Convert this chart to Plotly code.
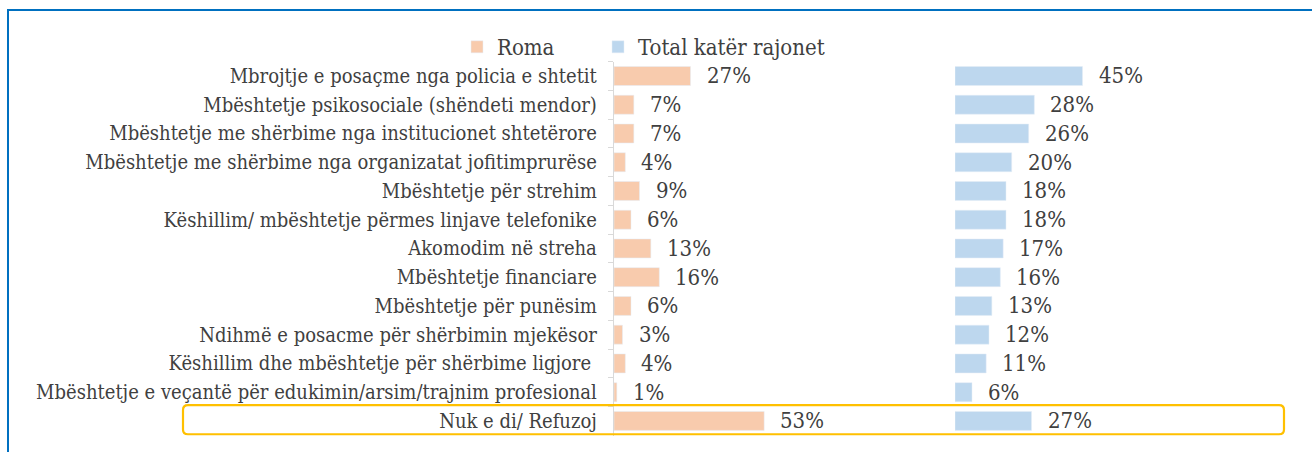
import plotly.graph_objects as go

W, H = 1312, 452

categories = [
    "Mbrojtje e posaçme nga policia e shtetit",
    "Mbështetje psikosociale (shëndeti mendor)",
    "Mbështetje me shërbime nga institucionet shtetërore",
    "Mbështetje me shërbime nga organizatat jofitimprurëse",
    "Mbështetje për strehim",
    "Këshillim/ mbështetje përmes linjave telefonike",
    "Akomodim në streha",
    "Mbështetje financiare",
    "Mbështetje për punësim",
    "Ndihmë e posacme për shërbimin mjekësor",
    "Këshillim dhe mbështetje për shërbime ligjore ",
    "Mbështetje e veçantë për edukimin/arsim/trajnim profesional",
    "Nuk e di/ Refuzoj",
]
roma = [27, 7, 7, 4, 9, 6, 13, 16, 6, 3, 4, 1, 53]
total = [45, 28, 26, 20, 18, 18, 17, 16, 13, 12, 11, 6, 27]
series_names = ["Roma", "Total katër rajonet"]

ORANGE = "#F8CBAD"
BLUE = "#BDD7EE"
TXT = "#404040"
FONT = "DejaVu Serif Condensed, DejaVu Serif, Liberation Serif, serif"

def px_x(p):
    return p / W

def px_y(p):
    return 1 - p / H

fig = go.Figure()
fig.add_trace(go.Bar(y=categories, x=roma, orientation="h", name=series_names[0],
                     marker=dict(color=ORANGE), width=0.66, xaxis="x", yaxis="y",
                     hoverinfo="skip", legend="legend"))
fig.add_trace(go.Bar(y=categories, x=total, orientation="h", name=series_names[1],
                     marker=dict(color=BLUE), width=0.66, xaxis="x2", yaxis="y2",
                     hoverinfo="skip", legend="legend2"))

annotations = []
for c, v in zip(categories, roma):
    annotations.append(dict(x=v, y=c, xref="x", yref="y", text=f"{v}%", showarrow=False,
                            xanchor="left", xshift=14, font=dict(size=22, color=TXT, family=FONT)))
for c, v in zip(categories, total):
    annotations.append(dict(x=v, y=c, xref="x2", yref="y2", text=f"{v}%", showarrow=False,
                            xanchor="left", xshift=14, font=dict(size=22, color=TXT, family=FONT)))

ydom = [px_y(435.5), px_y(61.5)]
xmax = 120

# highlight box (rounded) around last row
x0, x1 = px_x(183), px_x(1284)
ya, yb = 11.45, 12.47
rx, ry = 5 / W, 0.17
path = (f"M {x0+rx},{ya} L {x1-rx},{ya} Q {x1},{ya} {x1},{ya+ry} "
        f"L {x1},{yb-ry} Q {x1},{yb} {x1-rx},{yb} L {x0+rx},{yb} "
        f"Q {x0},{yb} {x0},{yb-ry} L {x0},{ya+ry} Q {x0},{ya} {x0+rx},{ya} Z")

shapes = [
    dict(type="path", path=path, xref="paper", yref="y",
         line=dict(color="#FFC000", width=2.2), fillcolor="rgba(0,0,0,0)"),
    dict(type="line", xref="paper", yref="paper", x0=px_x(8), x1=px_x(8), y0=px_y(10), y1=-0.1,
         line=dict(color="#0070C0", width=2)),
    dict(type="line", xref="paper", yref="paper", x0=px_x(7), x1=1.1, y0=px_y(10), y1=px_y(10),
         line=dict(color="#0070C0", width=2)),
]

leg_common = dict(orientation="h", yanchor="middle", y=px_y(47), xanchor="left",
                  font=dict(size=22, color=TXT, family=FONT),
                  bgcolor="rgba(0,0,0,0)", itemclick=False, itemdoubleclick=False)

fig.update_layout(
    width=W, height=H,
    margin=dict(l=0, r=0, t=0, b=0),
    paper_bgcolor="white", plot_bgcolor="white",
    barmode="group",
    showlegend=True,
    legend=dict(x=px_x(457), **leg_common),
    legend2=dict(x=px_x(598), **leg_common),
    font=dict(family=FONT, color=TXT),
    xaxis=dict(domain=[px_x(614), px_x(954)], range=[0, xmax], visible=False, fixedrange=True),
    xaxis2=dict(domain=[px_x(955), px_x(1295)], range=[0, xmax], visible=False, fixedrange=True),
    yaxis=dict(domain=ydom, anchor="x", autorange="reversed", type="category",
               showline=True, linecolor="#D9D9D9", linewidth=1.3,
               ticks="outside", tickson="boundaries", ticklen=5, tickcolor="#D9D9D9",
               tickfont=dict(size=20, color=TXT, family=FONT), automargin=False,
               showgrid=False, zeroline=False, ticklabelstandoff=12),
    yaxis2=dict(domain=ydom, anchor="x2", autorange="reversed", type="category",
                matches="y", showticklabels=False, showline=False, ticks="",
                showgrid=False, zeroline=False),
    annotations=annotations,
    shapes=shapes,
)

fig.write_html("out.html")
